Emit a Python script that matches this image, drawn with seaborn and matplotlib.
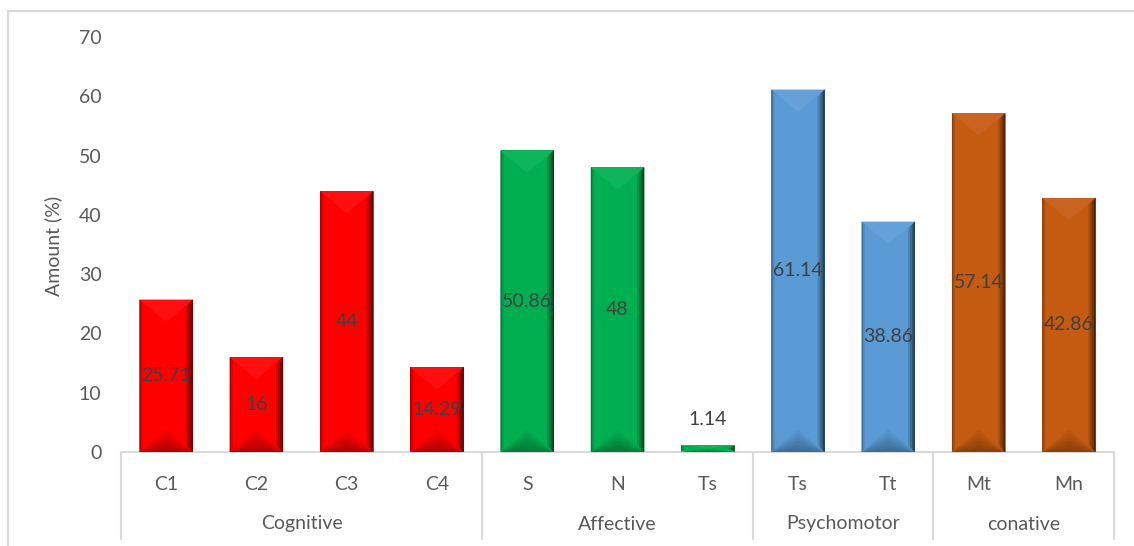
import numpy as np
import pandas as pd
import matplotlib
matplotlib.use("Agg")
import matplotlib.pyplot as plt
import seaborn as sns
from matplotlib.lines import Line2D
from matplotlib.patches import Polygon
from matplotlib.colors import to_rgb

# ---- data -------------------------------------------------------------
groups = ["Cognitive", "Affective", "Psychomotor", "conative"]
group_sizes = [4, 3, 2, 2]
items = ["C1", "C2", "C3", "C4", "S", "N", "Ts", "Ts", "Tt", "Mt", "Mn"]
values = [25.71, 16, 44, 14.29, 50.86, 48, 1.14, 61.14, 38.86, 57.14, 42.86]
group_colors = {"Cognitive": "#FF0000", "Affective": "#00B050",
                "Psychomotor": "#5B9BD5", "conative": "#C55A11"}
y_ticks = [0, 10, 20, 30, 40, 50, 60, 70]

# ---- style ------------------------------------------------------------
sns.set_theme(style="white")
plt.rcParams["font.family"] = ["Lato", "DejaVu Sans"]
TXT = "#595959"
LBL = "#404040"
GRID = "#D9D9D9"
FS = 14

W, H = 1134, 546
fig = plt.figure(figsize=(W / 100, H / 100), dpi=100)
AX_L, AX_R, AX_B, AX_T = 121, 1114, 452, 37
ax = fig.add_axes([AX_L / W, 1 - AX_B / H, (AX_R - AX_L) / W, (AX_B - AX_T) / H])

df = pd.DataFrame({
    "pos": range(len(items)),
    "value": values,
    "group": np.repeat(groups, group_sizes),
})
sns.barplot(data=df, x="pos", y="value", hue="group", palette=group_colors,
            width=0.59, dodge=False, legend=False, saturation=1, ax=ax)

n = len(items)
ax.set_xlim(-0.5, n - 0.5)
ax.set_ylim(y_ticks[0], y_ticks[-1])

# pixel -> data scale factors
sx = (AX_R - AX_L) / n
sy = (AX_B - AX_T) / (y_ticks[-1] - y_ticks[0])


def tint(c, f):
    c = np.array(to_rgb(c))
    if f >= 0:
        return tuple(c + (1 - c) * f)
    return tuple(c * (1 + f))


# ---- bevelled faces on each bar ---------------------------------------
for p in list(ax.patches):
    x0 = p.get_x()
    bw = p.get_width()
    x1 = x0 + bw
    h = p.get_height()
    if h <= 0:
        continue
    base = p.get_facecolor()[:3]
    p.set_edgecolor("none")
    xc = x0 + bw / 2
    w_px = bw * sx
    h_px = h * sy
    d_px = min(0.42 * w_px, h_px / 2)
    d = d_px / sy

    # top facet: slightly lighter wedge
    ax.add_patch(Polygon([(x0, h), (x1, h), (xc, h - d)], closed=True,
                         facecolor=tint(base, 0.06), edgecolor="none", zorder=3))
    # bottom facet: darkening towards the base
    steps = 6
    for k in range(steps):
        frac = 1 - k / steps
        ax.add_patch(Polygon([(x0, 0), (x1, 0), (xc, d * frac)], closed=True,
                             facecolor=tint(base, -0.05 - 0.05 * k),
                             edgecolor="none", zorder=3))
    # right side: darker strips
    for k, (wpx, f) in enumerate([(7, -0.15), (5, -0.3), (3, -0.45), (1.5, -0.6)]):
        wd = wpx / sx
        e = min(wpx, h_px / 2) / sy
        ax.add_patch(Polygon([(x1 - wd, h - e), (x1, h), (x1, 0), (x1 - wd, e)],
                             closed=True, facecolor=tint(base, f),
                             edgecolor="none", zorder=4))
    # left side: narrow shaded edge
    for wpx, f in [(3, -0.12), (1.2, -0.3)]:
        wd = wpx / sx
        e = min(wpx, h_px / 2) / sy
        ax.add_patch(Polygon([(x0, h), (x0 + wd, h - e), (x0 + wd, e), (x0, 0)],
                             closed=True, facecolor=tint(base, f),
                             edgecolor="none", zorder=4))

# ---- value labels -----------------------------------------------------
for i, v in enumerate(values):
    txt = f"{v:g}"
    if v * sy < 20:
        ax.text(i, v + 26 / sy, txt, ha="center", va="center",
                fontsize=FS, color=LBL, zorder=6)
    else:
        ax.text(i, v / 2, txt, ha="center", va="center",
                fontsize=FS, color=LBL, zorder=6)

# ---- axes -------------------------------------------------------------
for side in ["left", "right", "top"]:
    ax.spines[side].set_visible(False)
ax.spines["bottom"].set_color(GRID)
ax.spines["bottom"].set_linewidth(1.5)

ax.set_yticks(y_ticks)
ax.set_yticklabels([str(t) for t in y_ticks])
ax.tick_params(axis="y", length=0, pad=14, labelsize=FS, labelcolor=TXT)
ax.set_xticks(range(n))
ax.set_xticklabels(items)
ax.tick_params(axis="x", length=0, pad=17, labelsize=FS, labelcolor=TXT)
ax.set_xlabel("")
ax.set_ylabel("")
ax.grid(False)

# multi-level category axis: group separators and names
ax_h = AX_B - AX_T
bounds = np.concatenate([[0], np.cumsum(group_sizes)]) - 0.5
xt = ax.get_xaxis_transform()
for b in bounds:
    ax.add_line(Line2D([b, b], [0, -(539 - AX_B) / ax_h], transform=xt,
                       color=GRID, lw=1.5, clip_on=False))
for g, lo, hi in zip(groups, bounds[:-1], bounds[1:]):
    ax.text((lo + hi) / 2, -(524 - AX_B) / ax_h, g, transform=xt,
            ha="center", va="center", fontsize=FS, color=TXT)

fig.text(53 / W, 1 - 246 / H, "Amount (%)", rotation=90, ha="center",
         va="center", fontsize=FS, color=TXT)

# chart frame
fig.add_artist(Line2D([8 / W, 8 / W], [0, 1 - 11 / H], transform=fig.transFigure,
                      color=GRID, lw=1.6))
fig.add_artist(Line2D([8 / W, 1], [1 - 11 / H, 1 - 11 / H], transform=fig.transFigure,
                      color=GRID, lw=1.6))

fig.savefig("out.png", dpi=100)
